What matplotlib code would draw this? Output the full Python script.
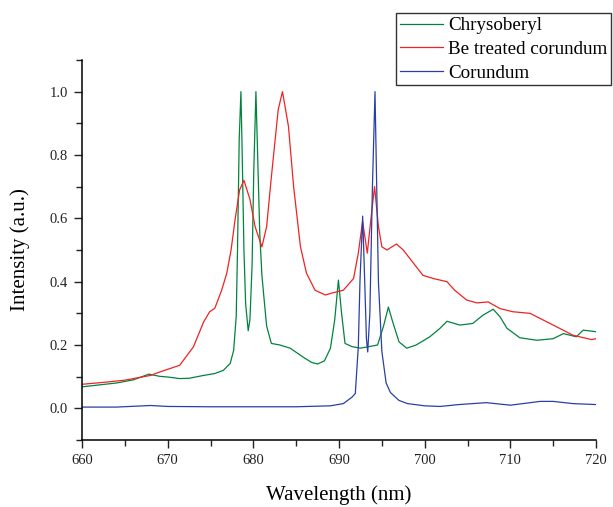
import matplotlib
matplotlib.use("Agg")
import matplotlib.pyplot as plt
from matplotlib.ticker import MultipleLocator

plt.rcParams["font.family"] = ["Liberation Serif", "DejaVu Serif"]

# Chrysoberyl (green)
chry_wl = [660.0, 662.0, 664.0, 666.0, 667.8, 669.1, 670.0, 671.4, 672.5, 674.2,
           675.5, 676.5, 677.3, 677.7, 678.0, 678.15, 678.35, 678.55, 678.7, 678.9,
           679.1, 679.4, 679.6, 679.85, 680.05, 680.3, 680.5, 680.75, 681.0, 681.2,
           681.55, 682.1, 683.1, 684.3, 685.8, 686.8, 687.5, 688.3, 689.0, 689.5,
           689.93, 690.3, 690.7, 691.5, 692.5, 693.5, 694.5, 695.2, 695.76, 696.3,
           697.0, 697.9, 699.0, 700.6, 701.8, 702.6, 704.1, 705.6, 706.8, 708.0,
           708.8, 709.6, 711.1, 713.1, 715.0, 716.2, 717.7, 718.5, 720.0]
chry_int = [0.068, 0.074, 0.080, 0.090, 0.108, 0.101, 0.099, 0.094, 0.095, 0.104,
            0.110, 0.120, 0.142, 0.183, 0.290, 0.500, 0.850, 1.000, 0.800, 0.500,
            0.330, 0.245, 0.280, 0.450, 0.750, 1.000, 0.800, 0.550, 0.420, 0.360,
            0.260, 0.205, 0.200, 0.190, 0.162, 0.145, 0.140, 0.150, 0.190, 0.280,
            0.405, 0.300, 0.205, 0.195, 0.190, 0.195, 0.200, 0.260, 0.320, 0.270,
            0.210, 0.190, 0.200, 0.226, 0.253, 0.275, 0.263, 0.268, 0.294, 0.313,
            0.289, 0.253, 0.223, 0.215, 0.220, 0.236, 0.226, 0.247, 0.242]

# Be treated corundum (red)
be_wl = [660.0, 662.5, 665.0, 668.0, 669.1, 671.4, 673.0, 674.2, 674.9, 675.5,
         676.3, 676.9, 677.4, 677.86, 678.4, 678.9, 679.6, 680.2, 681.0, 681.55,
         682.1, 682.9, 683.4, 684.1, 684.7, 685.5, 686.2, 687.2, 688.4, 689.3,
         690.5, 691.7, 692.25, 692.75, 693.3, 693.8, 694.15, 694.6, 695.0, 695.6,
         696.7, 697.5, 698.7, 699.8, 701.0, 702.6, 703.5, 704.9, 706.1, 707.4,
         708.8, 710.3, 712.3, 713.9, 715.8, 717.3, 719.5, 720.0]
be_int = [0.076, 0.082, 0.089, 0.104, 0.115, 0.136, 0.194, 0.273, 0.305, 0.316,
          0.373, 0.427, 0.500, 0.595, 0.690, 0.720, 0.660, 0.574, 0.510, 0.574,
          0.730, 0.943, 1.000, 0.890, 0.700, 0.510, 0.427, 0.373, 0.358, 0.365,
          0.373, 0.410, 0.490, 0.590, 0.490, 0.617, 0.700, 0.574, 0.510, 0.500,
          0.519, 0.500, 0.458, 0.420, 0.410, 0.400, 0.373, 0.342, 0.333, 0.336,
          0.315, 0.305, 0.300, 0.278, 0.252, 0.231, 0.217, 0.220]

# Corundum (blue)
cor_wl = [660.0, 664.0, 668.0, 670.0, 675.0, 680.0, 685.0, 689.0, 690.5, 691.5,
          691.9, 692.25, 692.45, 692.76, 693.0, 693.2, 693.35, 693.6, 693.9, 694.2,
          694.4, 694.6, 695.0, 695.5, 696.0, 697.0, 698.0, 700.0, 701.8, 704.0,
          707.2, 710.0, 713.5, 715.0, 717.3, 720.0]
cor_int = [0.004, 0.004, 0.009, 0.006, 0.005, 0.005, 0.005, 0.008, 0.015, 0.035,
           0.047, 0.194, 0.405, 0.607, 0.400, 0.220, 0.178, 0.300, 0.700, 1.000,
           0.700, 0.400, 0.180, 0.080, 0.050, 0.025, 0.015, 0.008, 0.006, 0.012,
           0.018, 0.010, 0.022, 0.022, 0.015, 0.012]

fig = plt.figure(figsize=(6.13, 5.07), dpi=100)
ax = fig.add_axes([0.1338, 0.1321, 0.8385, 0.7496])

ax.plot(chry_wl, chry_int, color="#00843d", lw=0.9, label="Chrysoberyl")
ax.plot(be_wl, be_int, color="#f02222", lw=0.9, label="Be treated corundum")
ax.plot(cor_wl, cor_int, color="#2a3fa6", lw=0.9, label="Corundum")

ax.set_xlim(660, 720)
ax.set_ylim(-0.1, 1.1)
ax.xaxis.set_major_locator(MultipleLocator(10))
ax.xaxis.set_minor_locator(MultipleLocator(5))
ax.yaxis.set_minor_locator(MultipleLocator(0.1))
ax.set_yticks([0.0, 0.2, 0.4, 0.6, 0.8, 1.0])
ax.set_yticklabels(["0.0", "0.2", "0.4", "0.6", "0.8", "1.0"])

for s in ("top", "right"):
    ax.spines[s].set_visible(False)
for s in ("left", "bottom"):
    ax.spines[s].set_linewidth(1.1)
ax.tick_params(which="both", direction="out", width=1, labelsize=10.5,
               colors="#222222")
ax.tick_params(which="major", length=6, pad=4)
ax.tick_params(which="minor", length=4)

ax.set_xlabel("Wavelength (nm)", fontsize=15, labelpad=13)
ax.set_ylabel("Intensity (a.u.)", fontsize=15, labelpad=14)

# legend sits partly outside the axes, running to the right edge
fig.legend(loc="upper left", bbox_to_anchor=(0.646, 0.974), fontsize=13.7,
           frameon=True, fancybox=False, edgecolor="#333333", framealpha=1,
           handlelength=2.25, handletextpad=0.3, labelspacing=0.33,
           borderpad=0.2, borderaxespad=0)

fig.savefig("out.png", dpi=100)
